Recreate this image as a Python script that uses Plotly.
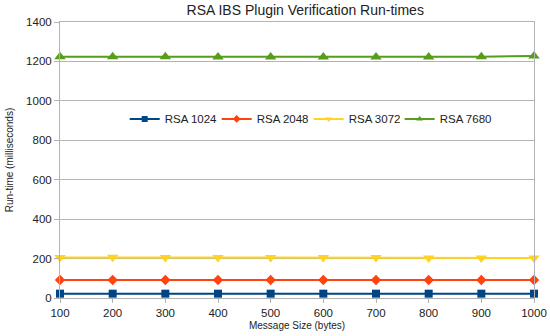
import plotly.graph_objects as go

sizes = [100, 200, 300, 400, 500, 600, 700, 800, 900, 1000]
rsa_1024 = [22, 22, 22, 22, 22, 22, 22, 22, 22, 22]
rsa_2048 = [91, 91, 91, 91, 91, 91, 91, 91, 91, 91]
rsa_3072 = [206, 207, 206, 206, 206, 206, 206, 203, 203, 203]
rsa_7680 = [1224, 1224, 1224, 1223, 1223, 1223, 1223, 1223, 1224, 1228]

series = [
    ("RSA 1024", rsa_1024, "#004586", "square", 8),
    ("RSA 2048", rsa_2048, "#ff420e", "diamond", 8),
    ("RSA 3072", rsa_3072, "#ffd320", "triangle-down", 10),
    ("RSA 7680", rsa_7680, "#579d1c", "triangle-up", 10),
]
legend_ids = ["legend", "legend2", "legend3", "legend4"]
legend_x = [0.1365, 0.3306, 0.5246, 0.7166]

fig = go.Figure()
for name, vals, color, sym, sz in series:
    fig.add_trace(go.Scatter(
        x=sizes, y=vals, name=name, mode="lines+markers",
        line=dict(color=color, width=2),
        marker=dict(symbol=sym, size=sz, color=color),
        cliponaxis=False, showlegend=False,
    ))
# legend entries with small markers, one legend each for exact placement
for (name, vals, color, sym, sz), lid in zip(series, legend_ids):
    fig.add_trace(go.Scatter(
        x=[None], y=[None], name=name, mode="lines+markers",
        line=dict(color=color, width=2),
        marker=dict(symbol=sym, size=6, color=color),
        showlegend=True, legend=lid,
    ))

layout_legends = {}
for lid, lx in zip(legend_ids, legend_x):
    layout_legends[lid] = dict(
        orientation="h", x=lx, xanchor="left", y=0.649, yanchor="middle",
        bgcolor="rgba(0,0,0,0)", font=dict(size=11.5), itemwidth=30,
    )

fig.update_layout(
    width=550, height=336,
    margin=dict(l=60, r=16, t=22, b=38, autoexpand=False),
    paper_bgcolor="white", plot_bgcolor="white",
    font=dict(family="Liberation Sans, Arial, sans-serif", color="#222", size=11),
    title=dict(text="RSA IBS Plugin Verification Run-times", x=0.555, xanchor="center",
               y=0.970, yanchor="middle", automargin=False,
               font=dict(size=14, color="#222")),
    showlegend=True,
    **layout_legends,
    xaxis=dict(
        range=[100, 1000], tickvals=sizes, ticktext=[str(s) for s in sizes],
        showgrid=False, showline=True, linecolor="#b3b3b3", mirror=True,
        ticks="outside", ticklen=4, tickcolor="#b3b3b3", automargin=False,
        tickfont=dict(size=11.5),
        title=dict(text="Message Size (bytes)", font=dict(size=10), standoff=4),
        zeroline=False,
    ),
    yaxis=dict(
        range=[0, 1400], dtick=200, showgrid=True, gridcolor="#b3b3b3",
        showline=True, linecolor="#b3b3b3", mirror=True,
        ticks="outside", ticklen=5, tickcolor="#b3b3b3", automargin=False,
        tickfont=dict(size=11.5),
        title=dict(text="Run-time (milliseconds)", font=dict(size=10), standoff=10),
        zeroline=False,
    ),
)

fig.write_html(
    "out.html",
    config={"displayModeBar": False},
    post_script="document.body.style.margin='0';document.body.style.overflow='hidden';",
)
